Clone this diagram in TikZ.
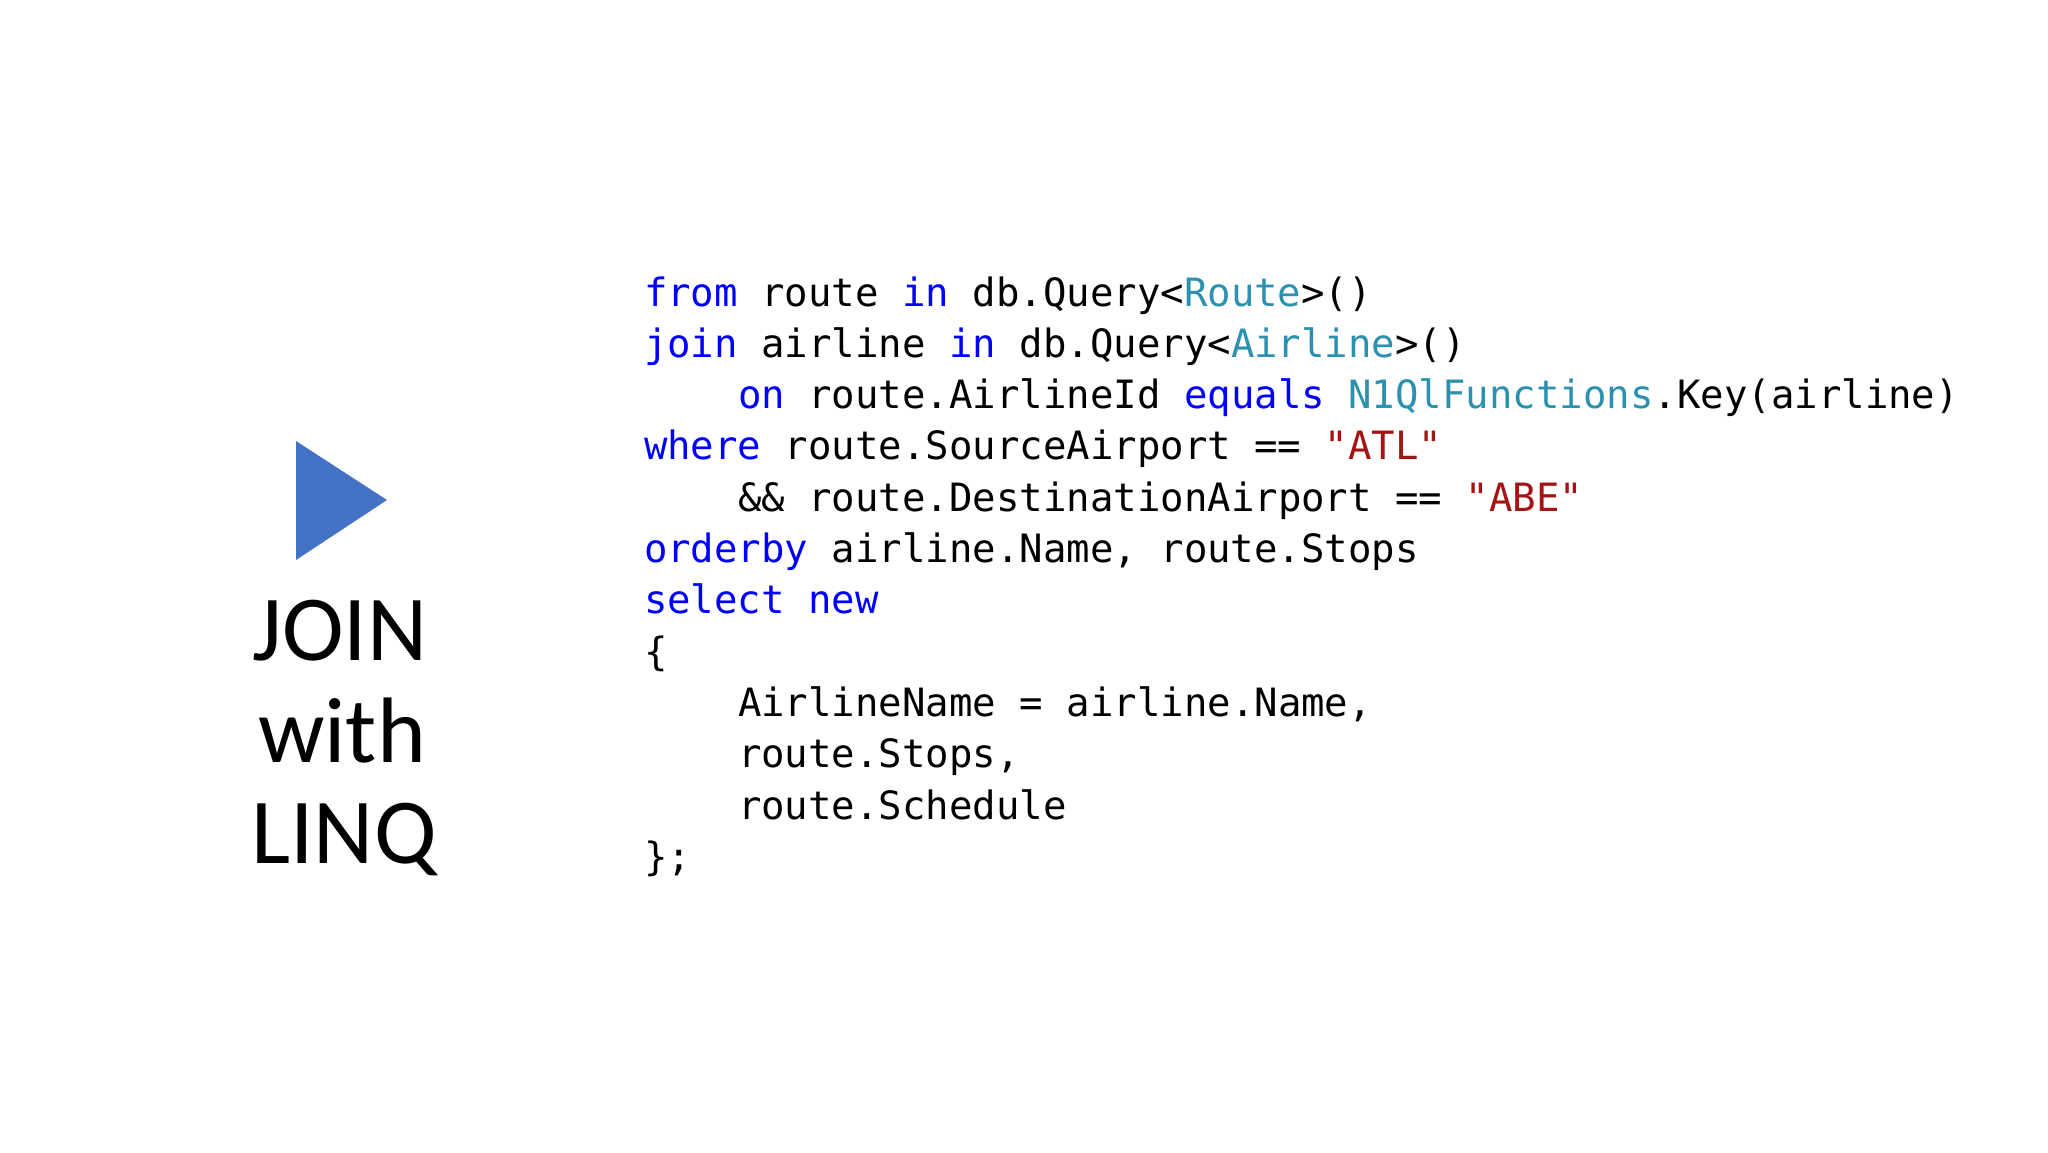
\documentclass[tikz,border=0pt]{standalone}
\usepackage{fontspec}
\setmainfont{Carlito}
\newfontfamily\codefont{DejaVu Sans Mono}
\definecolor{kw}{HTML}{0000FF}
\definecolor{ty}{HTML}{2B91AF}
\definecolor{st}{HTML}{A31515}
\definecolor{tri}{HTML}{4472C4}
\newcommand{\K}[1]{\textcolor{kw}{#1}}
\newcommand{\T}[1]{\textcolor{ty}{#1}}
\newcommand{\Q}[1]{\textcolor{st}{#1}}
\tikzset{
  codeline/.style={anchor=base west,inner sep=0pt,outer sep=0pt,text=black,font=\codefont\fontsize{19.5pt}{19.5pt}\selectfont},
  titleline/.style={anchor=base,inner sep=0pt,outer sep=0pt,text=black,font=\fontsize{46.5pt}{46.5pt}\selectfont}
}
\begin{document}
\begin{tikzpicture}[x=0.5pt,y=-0.5pt]
\useasboundingbox (0,0) rectangle (2048,1152);
\fill[white] (0,0) rectangle (2048,1152);
\fill[tri] (296,441) -- (387,500) -- (296,560) -- cycle;
\node[titleline] (t1) at (340,660) {JOIN};
\node[titleline] (t2) at (342,762) {with};
\node[titleline] (t3) at (344,863) {LINQ};
\node[codeline] (c1) at (644,306) {\K{from} route \K{in} db.Query<\T{Route}>()};
\node[codeline] (c2) at (644,357.3) {\K{join} airline \K{in} db.Query<\T{Airline}>()};
\node[codeline] (c3) at (738,408.6) {\K{on} route.AirlineId \K{equals} \T{N1QlFunctions}.Key(airline)};
\node[codeline] (c4) at (644,459.9) {\K{where} route.SourceAirport == \Q{"ATL"}};
\node[codeline] (c5) at (738,511.2) {\&\& route.DestinationAirport == \Q{"ABE"}};
\node[codeline] (c6) at (644,562.5) {\K{orderby} airline.Name, route.Stops};
\node[codeline] (c7) at (644,613.8) {\K{select} \K{new}};
\node[codeline] (c8) at (644,665.1) {\{};
\node[codeline] (c9) at (738,716.4) {AirlineName = airline.Name,};
\node[codeline] (c10) at (738,767.7) {route.Stops,};
\node[codeline] (c11) at (738,819) {route.Schedule};
\node[codeline] (c12) at (644,870.3) {\};};
\end{tikzpicture}
\end{document}
